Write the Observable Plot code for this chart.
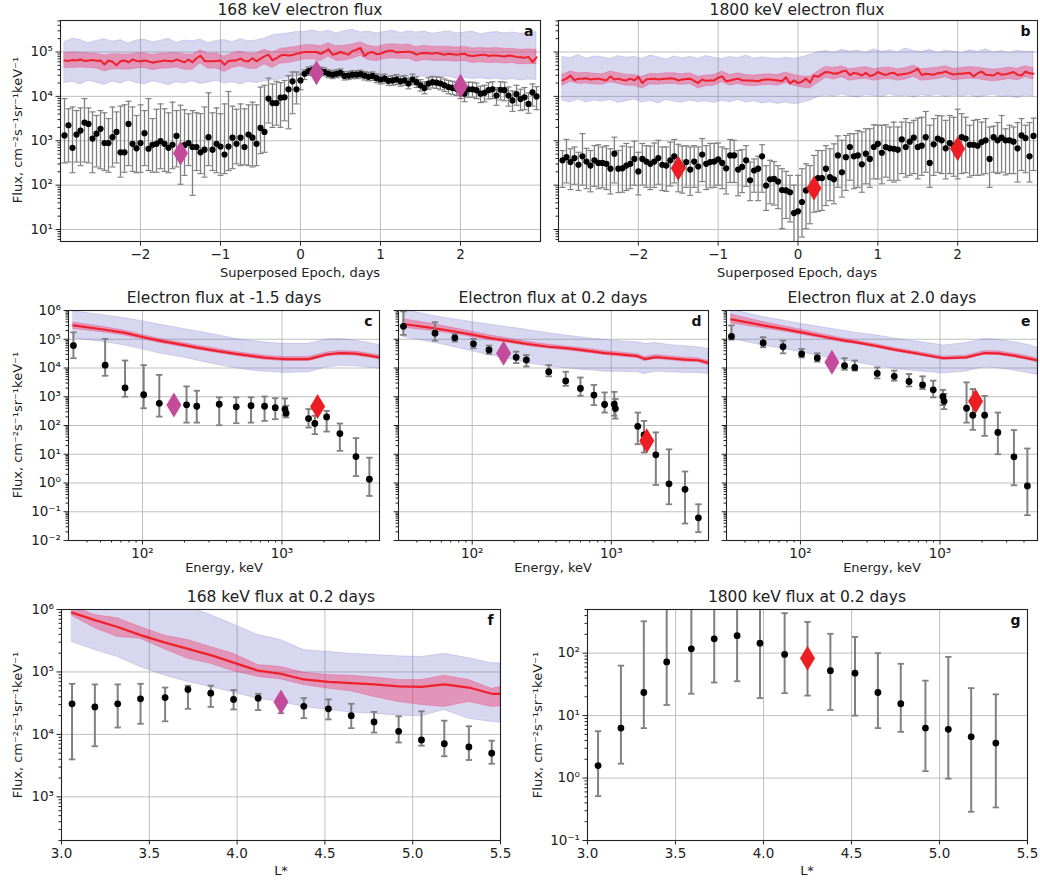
<!DOCTYPE html>
<html><head><meta charset="utf-8">
<script src="https://cdn.jsdelivr.net/npm/d3@7"></script>
<script src="https://cdn.jsdelivr.net/npm/@observablehq/plot@0.6"></script>
<style>
body{margin:0;background:#fff;}
#fig{position:relative;width:1040px;height:882px;background:#fff;font-family:"DejaVu Sans",sans-serif;color:#222;overflow:hidden;}
.t{position:absolute;transform:translate(-50%,-50%);white-space:nowrap;}
.ttl{font-size:15.5px;}
.lab{font-size:13px;}
.ylab{font-size:13px;transform:translate(-50%,-50%) rotate(-90deg);}
</style></head>
<body><div id="fig"></div>
<script>
// ---------------- DATA (log10 of flux unless stated) ----------------
const epochDays = [
-2.95,-2.9,-2.85,-2.8,-2.75,-2.7,-2.65,-2.6,-2.55,-2.5,
-2.45,-2.4,-2.35,-2.3,-2.25,-2.2,-2.15,-2.1,-2.05,-2,
-1.95,-1.9,-1.85,-1.8,-1.75,-1.7,-1.65,-1.6,-1.55,-1.5,
-1.45,-1.4,-1.35,-1.3,-1.25,-1.2,-1.15,-1.1,-1.05,-1,
-0.95,-0.9,-0.85,-0.8,-0.75,-0.7,-0.65,-0.6,-0.55,-0.5,
-0.45,-0.4,-0.35,-0.3,-0.25,-0.2,-0.15,-0.1,-0.05,0,
0.05,0.1,0.15,0.2,0.25,0.3,0.35,0.4,0.45,0.5,
0.55,0.6,0.65,0.7,0.75,0.8,0.85,0.9,0.95,1,
1.05,1.1,1.15,1.2,1.25,1.3,1.35,1.4,1.45,1.5,
1.55,1.6,1.65,1.7,1.75,1.8,1.85,1.9,1.95,2,
2.05,2.1,2.15,2.2,2.25,2.3,2.35,2.4,2.45,2.5,
2.55,2.6,2.65,2.7,2.75,2.8,2.85,2.9,2.95];
const bandDays = [-2.95,-2.85,-2.75,-2.65,-2.55,-2.45,-2.35,-2.25,-2.15,-2.05,
-1.95,-1.85,-1.75,-1.65,-1.55,-1.45,-1.35,-1.25,-1.15,-1.05,
-0.95,-0.85,-0.75,-0.65,-0.55,-0.45,-0.35,-0.25,-0.15,-0.05,
0.05,0.15,0.25,0.35,0.45,0.55,0.65,0.75,0.85,0.95,
1.05,1.15,1.25,1.35,1.45,1.55,1.65,1.75,1.85,1.95,
2.05,2.15,2.25,2.35,2.45,2.55,2.65,2.75,2.85,2.95];

// panel a: 168 keV
const aFlux = [3.12,3.35,2.84,3.14,3.23,3.41,3.38,3.05,3.16,3.27,
2.95,2.95,3.08,3.20,2.74,2.74,3.38,2.93,2.83,2.95,
3.17,2.82,2.91,2.93,2.99,2.93,2.84,2.91,3.11,2.80,
2.90,2.95,2.86,2.86,2.74,2.80,3.08,2.80,2.93,2.87,
2.69,2.87,3.07,2.93,3.07,2.86,3.14,3.07,2.93,3.29,
3.20,3.95,3.85,3.85,3.97,3.98,4.16,4.34,4.16,
4.36,4.51,4.57,4.59,4.57,4.57,4.55,4.51,4.49,4.51,
4.53,4.46,4.47,4.49,4.49,4.50,4.47,4.44,4.46,4.41,
4.38,4.40,4.35,4.36,4.38,4.34,4.36,4.29,4.38,4.32,
4.25,4.19,4.29,4.32,4.31,4.29,4.25,4.21,4.19,4.17,
4.11,4.06,4.16,4.16,4.14,4.06,4.08,4.14,4.16,4.02,
4.15,4.14,4.02,3.91,4.05,3.94,3.98,3.83,4.09,4.00];
const aHigh = [3.95,3.72,3.76,3.68,3.74,3.95,3.74,3.65,3.57,3.68,
3.63,3.50,3.76,3.65,3.78,3.81,3.89,3.76,3.57,3.81,
3.68,3.95,3.50,3.71,3.83,3.72,3.63,3.87,3.68,3.80,
3.70,3.61,3.68,3.63,3.61,3.76,4.08,3.63,3.74,3.61,
3.83,4.11,3.78,3.71,3.83,3.72,3.81,3.87,3.81,4.21,
4.25,4.41,4.28,4.34,4.31,4.36,4.47,4.55,4.55,
4.50,4.60,4.66,4.68,4.66,4.66,4.64,4.60,4.58,4.60,
4.62,4.56,4.56,4.58,4.58,4.59,4.56,4.54,4.55,4.51,
4.48,4.50,4.45,4.47,4.49,4.45,4.47,4.41,4.50,4.44,
4.38,4.33,4.42,4.45,4.44,4.43,4.39,4.36,4.34,4.32,
4.27,4.22,4.32,4.32,4.30,4.23,4.25,4.31,4.33,4.20,
4.33,4.32,4.21,4.12,4.25,4.16,4.20,4.08,4.28,4.22];
const aLow = [2.50,2.52,2.28,2.52,2.44,2.52,2.50,2.28,2.41,2.37,
2.33,2.29,2.41,2.50,2.18,2.29,2.44,2.31,2.28,2.29,
2.44,2.33,2.29,2.29,2.37,2.31,2.28,2.37,2.41,2.02,
2.22,2.44,1.77,2.33,2.26,2.18,2.44,2.33,2.28,2.22,
2.26,2.33,2.37,2.48,2.44,2.46,2.44,2.41,2.44,2.71,
2.74,3.40,3.30,3.35,3.30,3.45,3.27,3.61,3.83,
4.15,4.38,4.47,4.49,4.47,4.48,4.46,4.42,4.40,4.42,
4.44,4.37,4.38,4.40,4.40,4.41,4.37,4.35,4.36,4.31,
4.28,4.30,4.25,4.25,4.27,4.23,4.25,4.17,4.26,4.20,
4.12,4.06,4.16,4.19,4.18,4.15,4.11,4.06,4.04,4.02,
3.95,3.88,3.98,3.98,3.95,3.86,3.88,3.94,3.95,3.80,
3.92,3.90,3.78,3.66,3.80,3.68,3.70,3.62,3.78,3.70];
const aModel = [4.81,4.80,4.82,4.81,4.83,4.80,4.81,4.82,4.80,4.81,
4.72,4.81,4.78,4.70,4.79,4.81,4.77,4.83,4.80,4.79,
4.81,4.79,4.76,4.78,4.79,4.81,4.80,4.79,4.83,4.80,
4.77,4.83,4.77,4.86,4.92,4.80,4.79,4.79,4.80,4.81,
4.71,4.80,4.81,4.81,4.85,4.80,4.79,4.86,4.79,4.85,
4.90,4.94,4.81,4.86,4.92,4.94,4.92,4.93,4.96,4.98,
5.00,5.00,5.00,5.00,4.96,5.00,5.06,4.94,4.96,5.00,
4.97,4.94,5.02,5.05,5.09,4.91,4.98,5.00,4.95,4.96,
5.00,5.03,5.03,4.99,5.00,5.00,5.01,4.99,4.94,4.97,
4.98,4.97,4.96,4.98,4.96,4.94,4.96,4.95,4.94,4.95,
4.96,4.92,4.91,4.92,4.93,4.94,4.91,4.92,4.92,4.91,
4.90,4.92,4.91,4.89,4.88,4.87,4.89,4.77,4.88];
const aOuterHi = [5.22,5.30,5.27,5.20,5.25,5.29,5.23,5.27,5.19,5.26,
5.28,5.22,5.25,5.30,5.21,5.26,5.24,5.28,5.20,5.25,
5.27,5.22,5.29,5.24,5.26,5.30,5.38,5.40,5.42,5.45,
5.45,5.49,5.44,5.48,5.42,5.47,5.50,5.44,5.46,5.42,
5.45,5.48,5.43,5.47,5.44,5.46,5.41,5.44,5.47,5.42,
5.44,5.46,5.40,5.43,5.45,5.42,5.44,5.41,5.43,5.45];
const aOuterLo = [4.30,4.33,4.27,4.35,4.31,4.26,4.33,4.29,4.36,4.30,
4.27,4.34,4.30,4.25,4.32,4.29,4.34,4.28,4.31,4.35,
4.29,4.32,4.27,4.33,4.30,4.34,4.36,4.38,4.42,4.45,
4.48,4.50,4.46,4.49,4.47,4.51,4.45,4.48,4.46,4.44,
4.47,4.43,4.45,4.42,4.46,4.44,4.41,4.43,4.45,4.40,
4.42,4.39,4.41,4.38,4.40,4.37,4.39,4.36,4.38,4.37];
const aInnerHi = [4.97,4.99,4.98,4.97,4.96,4.92,4.95,4.95,4.94,4.97,
4.97,4.93,4.96,4.97,4.98,4.95,4.94,5.04,4.96,4.97,
4.90,4.97,5.01,4.96,4.97,5.05,4.99,5.07,5.09,5.12,
5.15,5.16,5.13,5.20,5.13,5.14,5.17,5.22,5.14,5.11,
5.16,5.18,5.16,5.17,5.11,5.14,5.12,5.12,5.12,5.10,
5.12,5.08,5.09,5.08,5.09,5.07,5.07,5.05,5.06,5.05];
const aInnerLo = [4.64,4.64,4.65,4.64,4.63,4.56,4.61,4.61,4.60,4.63,
4.64,4.59,4.62,4.63,4.65,4.60,4.60,4.74,4.62,4.63,
4.55,4.64,4.68,4.62,4.62,4.72,4.64,4.74,4.75,4.79,
4.83,4.84,4.79,4.90,4.80,4.81,4.85,4.91,4.82,4.79,
4.84,4.86,4.84,4.85,4.78,4.82,4.80,4.80,4.80,4.78,
4.80,4.75,4.77,4.75,4.76,4.74,4.75,4.72,4.73,4.72];
const aMarkDays = [-1.5, 0.2, 2.0];
const aMarkFlux = [2.72, 4.53, 4.23];

// panel b: 1800 keV
const bFlux = [2.56,2.63,2.52,2.61,2.46,2.65,2.53,2.44,2.56,2.50,
2.50,2.48,2.37,2.71,2.37,2.38,2.44,2.48,2.59,2.31,
2.59,2.53,2.48,2.53,2.61,2.46,2.44,2.56,2.65,2.45,
2.40,2.52,2.35,2.53,2.42,2.69,2.48,2.52,2.53,2.58,
2.50,2.38,2.67,2.67,2.35,2.41,2.56,2.11,2.33,2.37,
2.65,1.99,2.13,2.14,2.08,1.89,1.88,1.84,1.37,
1.41,1.62,1.88,1.92,1.95,2.16,2.16,2.37,2.18,2.13,
2.67,2.29,2.63,2.86,2.65,2.67,2.47,2.71,2.59,2.86,
2.93,2.73,2.86,2.83,2.82,2.80,3.03,2.86,2.98,3.07,
2.86,2.89,3.08,2.50,2.92,3.05,3.01,2.83,2.95,2.89,
2.95,3.08,3.05,2.91,2.91,2.89,2.97,3.01,2.59,3.08,
3.01,3.07,3.01,3.01,2.98,2.83,3.12,3.06,2.65,3.11];
const bHigh = [2.78,3.03,2.82,2.86,2.74,3.16,2.83,2.78,2.89,2.91,
2.86,2.89,2.82,3.08,2.78,2.88,2.94,2.86,2.99,2.74,
2.94,2.89,2.88,2.95,3.01,2.86,2.86,2.97,3.03,2.92,
2.88,2.89,2.86,2.89,2.86,3.05,2.89,2.94,2.94,2.95,
2.86,2.82,3.03,3.01,2.78,2.80,2.89,2.52,2.59,2.65,
2.91,2.44,2.56,2.53,2.44,2.37,2.31,2.22,2.00,
2.22,2.37,2.48,2.44,2.67,2.78,2.78,2.89,2.82,2.93,
3.11,3.01,3.12,3.16,3.16,3.23,3.20,3.27,3.27,3.36,
3.35,3.35,3.36,3.31,3.42,3.31,3.42,3.50,3.41,3.46,
3.51,3.53,3.66,3.35,3.50,3.57,3.56,3.46,3.57,3.53,
3.71,3.61,3.53,3.35,3.46,3.48,3.42,3.50,3.31,3.33,
3.41,3.57,3.27,3.35,3.31,3.41,3.50,3.35,3.41,3.51];
const bLow = [1.95,2.05,1.90,2.02,1.88,2.00,1.92,1.85,1.97,1.92,
1.94,1.90,1.80,2.05,1.83,1.84,1.88,1.92,2.00,1.78,
2.00,1.95,1.90,1.95,2.02,1.88,1.86,1.98,2.05,1.85,
1.82,1.95,1.77,1.95,1.84,2.08,1.90,1.94,1.95,2.00,
1.92,1.80,2.06,2.06,1.76,1.83,1.97,1.65,1.84,1.65,
1.84,1.43,1.58,1.55,1.47,1.02,1.25,1.17,0.71,
0.71,0.83,1.02,1.13,1.39,1.41,1.43,1.54,1.65,1.58,
1.95,1.73,1.88,2.11,1.92,1.95,1.84,2.03,1.95,2.14,
2.14,2.03,2.18,2.11,2.07,2.11,2.26,2.18,2.22,2.26,
2.14,2.22,2.29,1.95,2.22,2.29,2.26,2.14,2.26,2.20,
2.14,2.26,2.28,2.18,2.22,2.22,2.23,2.26,1.95,2.29,
2.26,2.29,2.23,2.26,2.26,2.07,2.33,2.28,2.07,2.33];
const bModel = [4.36,4.40,4.47,4.36,4.40,4.40,4.41,4.38,4.39,4.40,
4.38,4.36,4.45,4.38,4.40,4.37,4.36,4.40,4.36,4.44,
4.30,4.38,4.39,4.40,4.38,4.39,4.40,4.41,4.40,4.36,
4.38,4.39,4.40,4.35,4.30,4.38,4.35,4.36,4.36,4.42,
4.45,4.34,4.36,4.38,4.40,4.36,4.36,4.36,4.35,4.34,
4.37,4.38,4.38,4.37,4.36,4.34,4.43,4.29,4.36,4.30,
4.33,4.40,4.31,4.47,4.44,4.50,4.55,4.54,4.51,4.52,
4.56,4.58,4.48,4.53,4.51,4.47,4.53,4.46,4.48,4.55,
4.51,4.48,4.52,4.53,4.48,4.50,4.51,4.53,4.57,4.62,
4.48,4.51,4.50,4.49,4.52,4.53,4.56,4.52,4.49,4.51,
4.51,4.52,4.53,4.45,4.52,4.56,4.49,4.48,4.47,4.53,
4.49,4.50,4.52,4.55,4.49,4.47,4.56,4.52,4.51];
const bOuterHi = [4.89,4.86,4.93,4.85,4.90,4.88,4.84,4.91,4.87,4.89,
4.85,4.92,4.88,4.83,4.90,4.86,4.89,4.85,4.91,4.87,
4.84,4.89,4.86,4.92,4.85,4.88,4.86,4.84,4.87,4.85,
4.88,4.93,5.00,5.02,4.98,5.05,5.01,5.03,4.98,5.06,
5.00,5.04,4.99,5.08,5.02,5.00,5.05,4.98,5.03,5.01,
4.97,5.04,5.00,5.06,4.99,5.02,4.98,5.03,5.00,5.01];
const bOuterLo = [3.90,3.87,3.93,3.86,3.91,3.88,3.92,3.85,3.89,3.93,
3.86,3.90,3.84,3.92,3.88,3.86,3.91,3.87,3.89,3.85,
3.90,3.87,3.92,3.86,3.89,3.84,3.87,3.83,3.86,3.82,
3.85,3.90,3.98,4.02,3.99,4.04,4.00,3.97,4.03,4.01,
3.98,4.05,4.00,4.02,3.97,4.03,4.00,4.04,3.98,4.02,
3.99,4.03,3.97,4.01,4.04,3.98,4.00,3.96,4.02,3.99];
const bInnerHi = [4.49,4.56,4.52,4.53,4.51,4.50,4.56,4.52,4.49,4.48,
4.44,4.51,4.50,4.52,4.52,4.50,4.52,4.44,4.47,4.48,
4.56,4.48,4.52,4.48,4.47,4.49,4.50,4.48,4.54,4.48,
4.45,4.44,4.56,4.67,4.64,4.68,4.61,4.64,4.66,4.61,
4.64,4.65,4.61,4.64,4.69,4.61,4.63,4.65,4.68,4.62,
4.64,4.66,4.65,4.62,4.60,4.62,4.65,4.62,4.68,4.64];
const bInnerLo = [4.24,4.33,4.28,4.29,4.27,4.26,4.32,4.28,4.24,4.24,
4.18,4.27,4.26,4.28,4.28,4.26,4.28,4.18,4.23,4.24,
4.32,4.24,4.28,4.24,4.23,4.25,4.26,4.24,4.30,4.24,
4.20,4.18,4.30,4.42,4.38,4.43,4.35,4.38,4.40,4.35,
4.38,4.39,4.35,4.38,4.44,4.35,4.37,4.39,4.43,4.36,
4.38,4.40,4.39,4.36,4.34,4.36,4.39,4.36,4.43,4.38];
const bMarkDays = [-1.5, 0.2, 2.0];
const bMarkFlux = [2.38, 1.93, 2.82];

// panels c, d, e: energy spectra (keV)
const dotEnergy = [32,54,75,102,132,207,245,355,470,600,750,895,1050,1070,1550,1720,2090,2600,3390,4230];
const modelEnergy = [32,54,75,102,132,207,245,355,470,600,750,895,1060,1550,1740,2090,2600,3390,4230,5000];
const markEnergy = [168, 1800];

const cFlux = [4.78,4.10,3.31,3.07,2.77,2.72,2.67,2.74,2.65,2.69,2.67,2.62,2.57,2.43,2.24,2.07,2.30,1.72,0.92,0.13];
const cLow  = [4.34,3.73,3.00,2.60,2.31,2.10,2.10,2.01,2.08,2.10,2.16,2.22,2.34,2.28,1.93,1.70,1.79,1.12,0.24,-0.45];
const cHigh = [5.24,5.01,4.26,4.10,3.76,3.36,3.21,2.98,2.98,2.98,3.01,2.95,2.94,2.69,2.57,2.34,2.51,2.07,1.56,0.88];
const cModel   = [5.48,5.33,5.22,5.07,4.95,4.78,4.71,4.58,4.49,4.42,4.36,4.33,4.31,4.31,4.37,4.47,4.52,4.50,4.43,4.37];
const cOuterHi = [5.97,5.83,5.73,5.62,5.51,5.34,5.28,5.13,5.01,4.94,4.90,4.86,4.84,4.84,4.90,4.99,5.01,4.95,4.87,4.80];
const cOuterLo = [5.03,4.90,4.78,4.64,4.51,4.34,4.26,4.10,3.99,3.91,3.87,3.85,3.83,3.85,3.91,4.02,4.08,4.06,4.01,3.97];
const cInnerHi = [5.58,5.42,5.30,5.14,5.02,4.85,4.78,4.65,4.56,4.49,4.43,4.40,4.38,4.38,4.44,4.54,4.59,4.57,4.50,4.44];
const cInnerLo = [5.36,5.23,5.13,4.99,4.87,4.71,4.64,4.51,4.42,4.35,4.29,4.26,4.24,4.24,4.30,4.40,4.45,4.43,4.36,4.30];
const cMarkFlux = [2.71, 2.66];

const dFlux = [5.45,5.21,5.05,4.84,4.63,4.37,4.28,3.87,3.55,3.29,3.06,2.73,2.74,2.59,1.97,1.67,0.98,-0.03,-0.22,-1.21];
const dLow  = [5.15,4.95,4.92,4.69,4.49,4.17,4.05,3.71,3.38,3.03,2.71,2.45,2.34,2.24,1.35,1.06,-0.07,-0.74,-1.41,-1.71];
const dHigh = [5.97,5.59,5.19,5.01,4.78,4.57,4.45,4.10,3.87,3.67,3.41,3.15,3.17,2.92,2.45,2.16,1.76,1.17,0.40,-0.74];
const dModel   = [5.53,5.38,5.27,5.15,5.05,4.90,4.84,4.74,4.69,4.63,4.57,4.52,4.49,4.41,4.31,4.38,4.34,4.29,4.27,4.17];
const dOuterHi = [6.03,5.80,5.69,5.59,5.51,5.38,5.33,5.21,5.13,5.07,5.01,4.98,4.94,4.90,4.84,4.87,4.80,4.76,4.72,4.66];
const dOuterLo = [5.07,4.87,4.72,4.57,4.45,4.26,4.17,4.05,3.99,3.94,3.91,3.87,3.87,3.85,3.79,3.87,3.85,3.83,3.83,3.79];
const dInnerHi = [5.70,5.52,5.38,5.25,5.14,4.98,4.92,4.81,4.75,4.70,4.64,4.59,4.56,4.48,4.38,4.45,4.41,4.36,4.34,4.24];
const dInnerLo = [5.40,5.27,5.18,5.07,4.97,4.83,4.77,4.67,4.62,4.56,4.50,4.45,4.42,4.34,4.24,4.31,4.27,4.22,4.20,4.10];
const dMarkFlux = [4.51, 1.47];

const eFlux = [5.10,4.87,4.74,4.49,4.35,4.08,4.02,3.81,3.71,3.53,3.41,3.24,3.00,2.84,2.60,2.36,2.36,1.76,0.91,-0.10];
const eLow  = [4.99,4.72,4.51,4.37,4.22,3.94,3.91,3.64,3.56,3.36,3.27,2.98,2.71,2.57,2.10,1.85,1.64,1.00,-0.08,-1.12];
const eHigh = [5.48,5.07,4.95,4.66,4.51,4.34,4.26,4.02,3.91,3.79,3.71,3.56,3.24,3.10,3.50,3.27,3.03,2.45,1.84,1.20];
const eModel   = [5.69,5.48,5.36,5.24,5.13,4.95,4.90,4.76,4.64,4.55,4.47,4.40,4.34,4.37,4.43,4.52,4.51,4.43,4.34,4.26];
const eOuterHi = [6.03,5.77,5.65,5.53,5.44,5.29,5.23,5.13,5.03,4.95,4.90,4.84,4.78,4.87,4.92,5.01,4.98,4.90,4.81,4.71];
const eOuterLo = [5.01,4.78,4.66,4.55,4.43,4.26,4.20,4.06,3.97,3.91,3.87,3.84,3.81,3.88,3.94,4.02,3.99,3.91,3.83,3.76];
const eInnerHi = [5.86,5.60,5.46,5.33,5.21,5.02,4.96,4.82,4.70,4.61,4.53,4.46,4.40,4.43,4.49,4.59,4.58,4.50,4.41,4.33];
const eInnerLo = [5.55,5.38,5.27,5.16,5.06,4.88,4.84,4.70,4.58,4.49,4.41,4.34,4.28,4.31,4.37,4.46,4.45,4.37,4.28,4.20];
const eMarkFlux = [4.20, 2.84];

// panels f, g: radial profiles
const fLstar = [3.06,3.19,3.32,3.45,3.59,3.72,3.85,3.98,4.12,4.25,4.38,4.52,4.65,4.78,4.92,5.05,5.18,5.32,5.45];
const fFlux = [4.49,4.44,4.49,4.57,4.59,4.72,4.66,4.56,4.58,4.52,4.45,4.41,4.30,4.20,4.05,3.91,3.85,3.80,3.70];
const fHigh = [4.81,4.80,4.80,4.81,4.75,4.78,4.78,4.71,4.65,4.60,4.58,4.56,4.49,4.36,4.29,4.37,4.22,4.13,3.90];
const fLow  = [3.60,3.81,4.11,4.17,4.21,4.41,4.44,4.40,4.39,4.34,4.26,4.24,4.10,4.03,3.87,3.82,3.65,3.59,3.53];
const fModelL = [3.06,3.19,3.32,3.45,3.59,3.72,3.85,3.98,4.12,4.25,4.38,4.52,4.65,4.78,4.92,5.05,5.18,5.32,5.45,5.5];
const fModel   = [5.95,5.83,5.72,5.59,5.47,5.37,5.27,5.15,5.02,4.97,4.88,4.84,4.82,4.80,4.77,4.76,4.80,4.75,4.65,4.65];
const fInnerHi = [6.05,5.91,5.86,5.72,5.58,5.51,5.40,5.29,5.11,5.08,4.99,4.95,4.94,4.91,4.87,4.87,4.94,4.87,4.73,4.76];
const fInnerLo = [5.90,5.70,5.56,5.53,5.36,5.21,5.13,5.01,4.92,4.88,4.79,4.73,4.69,4.60,4.52,4.47,4.44,4.52,4.44,4.45];
const fOuterHi = [6.45,6.35,6.28,6.20,6.12,6.05,5.91,5.76,5.59,5.51,5.35,5.32,5.29,5.27,5.25,5.24,5.29,5.22,5.14,5.14];
const fOuterLo = [5.48,5.35,5.24,5.08,4.94,4.84,4.76,4.67,4.57,4.52,4.44,4.39,4.35,4.33,4.30,4.29,4.39,4.25,4.20,4.19];
const fMarkL = [4.25], fMarkFlux = [4.52];

const gLstar = [3.06,3.19,3.32,3.45,3.59,3.72,3.85,3.98,4.12,4.25,4.38,4.52,4.65,4.78,4.92,5.05,5.18,5.32];
const gFlux = [0.20,0.80,1.37,1.86,2.07,2.23,2.28,2.16,1.98,1.92,1.72,1.68,1.37,1.19,0.80,0.78,0.66,0.56];
const gHigh = [0.75,1.80,2.51,2.80,2.80,2.80,2.80,2.80,2.64,2.50,2.31,2.26,2.00,1.83,1.56,1.94,1.44,1.34];
const gLow  = [-0.29,0.23,0.80,1.17,1.35,1.53,1.55,1.28,1.36,1.32,1.09,1.00,0.80,0.74,0.11,-0.01,-0.54,-0.47];
const gMarkL = [4.25], gMarkFlux = [1.92];

// ---------------- STYLE ----------------
const C = {outer:"#7070c8", inner:"#f0205a", line:"#f0202a", mag:"#c44b9b", red:"#eb1e23",
           err:"#808080", grid:"#b8b8b8", frame:"#222"};
const P = v => Math.pow(10, v);
const SUP = {"-":"⁻","0":"⁰","1":"¹","2":"²","3":"³","4":"⁴","5":"⁵","6":"⁶","7":"⁷","8":"⁸","9":"⁹"};
const pow10 = v => "10" + String(Math.round(Math.log10(v))).split("").map(c => SUP[c]).join("");
const minus = v => (v < 0 ? "\u2212" + Math.abs(v) : String(v));
function minorLog(lo, hi) {
  const out = [];
  for (let k = Math.floor(Math.log10(lo)); k <= Math.ceil(Math.log10(hi)); k++)
    for (let m = 2; m <= 9; m++) { const v = m * Math.pow(10, k); if (v >= lo && v <= hi) out.push(v); }
  return out;
}
const thinDiamond = {draw(ctx, size) { const r = Math.sqrt(size / Math.PI), w = r * 0.6;
  ctx.moveTo(0, -r); ctx.lineTo(w, 0); ctx.lineTo(0, r); ctx.lineTo(-w, 0); ctx.closePath(); }};
const capSym = {draw(ctx, size) { const r = Math.sqrt(size / Math.PI); ctx.moveTo(-r, 0); ctx.lineTo(r, 0); }};

const fig = document.getElementById("fig");
function place(chart, left, top) {
  chart.style.position = "absolute"; chart.style.left = left + "px"; chart.style.top = top + "px";
  fig.append(chart);
}
function label(text, x, y, cls) {
  const d = document.createElement("div"); d.className = "t " + cls; d.textContent = text;
  d.style.left = x + "px"; d.style.top = y + "px"; fig.append(d);
}

function panel(o) {
  const {fx0, fx1, fy0, fy1, ml, mr = 4, mt = 6, mb = 28} = o;
  const chart = Plot.plot({
    width: (fx1 - fx0) + ml + mr, height: (fy1 - fy0) + mt + mb,
    marginLeft: ml, marginRight: mr, marginTop: mt, marginBottom: mb,
    x: {...o.x, axis: null}, y: {...o.y, axis: null},
    style: {background: "transparent", fontFamily: "DejaVu Sans", fontSize: "13px", color: "#222", overflow: "visible"},
    marks: [
      Plot.gridX(o.xGrid, {stroke: C.grid, strokeOpacity: 1, strokeWidth: 0.9}),
      Plot.gridY(o.yGrid, {stroke: C.grid, strokeOpacity: 1, strokeWidth: 0.9}),
      ...o.marks,
      Plot.frame({stroke: C.frame, strokeWidth: 1.1}),
      Plot.axisX(o.xTicks, {anchor: "bottom", tickSize: 4.5, tickPadding: 3, tickFormat: o.xFmt, label: null, fontSize: 13.5}),
      ...(o.xMinor ? [Plot.axisX(o.xMinor, {anchor: "bottom", tickSize: 2.5, tickFormat: () => "", label: null})] : []),
      Plot.axisY(o.yTicks, {anchor: "left", tickSize: 4.5, tickPadding: 3, tickFormat: o.yLabels ? pow10 : () => "", label: null, fontSize: 13.5}),
      Plot.axisY(minorLog(o.y.domain[0], o.y.domain[1]), {anchor: "left", tickSize: 2.5, tickFormat: () => "", label: null}),
      Plot.text([o.letter], {frameAnchor: "top-right", dx: -7, dy: 11, lineAnchor: "middle", fontWeight: "bold", fontSize: 14, fill: "#111"})
    ]
  });
  place(chart, fx0 - ml, fy0 - mt);
}

function errMarks(rows, xk, w, cap) {
  return [
    Plot.ruleX(rows, {x: xk, y1: "lo", y2: "hi", stroke: C.err, strokeWidth: w, clip: true}),
    Plot.dot(rows, {x: xk, y: "lo", symbol: capSym, r: cap, stroke: C.err, strokeWidth: w * 0.9, fill: "none", clip: true}),
    Plot.dot(rows, {x: xk, y: "hi", symbol: capSym, r: cap, stroke: C.err, strokeWidth: w * 0.9, fill: "none", clip: true})
  ];
}
function bandMarks(rows, xk) {
  return [
    Plot.areaY(rows, {x: xk, y1: "oLo", y2: "oHi", fill: C.outer, fillOpacity: 0.28, stroke: C.outer, strokeOpacity: 0.3, strokeWidth: 0.8, clip: true}),
    Plot.areaY(rows, {x: xk, y1: "iLo", y2: "iHi", fill: C.inner, fillOpacity: 0.36, stroke: C.inner, strokeOpacity: 0.3, strokeWidth: 0.8, clip: true}),
  ];
}

// ---------------- TOP ROW: time series ----------------
const tsY = {type: "log", domain: [P(0.73), P(5.71)]};
const tsX = {domain: [-3, 3]};
function timePanel(flux, lo, hi, model, oHi, oLo, iHi, iLo, mDays, mFlux, color, geom, letter, yLabels) {
  const rows = epochDays.map((d, i) => ({d, v: P(flux[i]), lo: P(lo[i]), hi: P(hi[i]), m: P(model[i])}));
  const bands = bandDays.map((d, i) => ({d, oHi: P(oHi[i]), oLo: P(oLo[i]), iHi: P(iHi[i]), iLo: P(iLo[i])}));
  const marks = mDays.map((d, i) => ({d, v: P(mFlux[i])}));
  panel({...geom, x: tsX, y: tsY, letter, yLabels,
    xGrid: [-2, -1, 0, 1, 2], yGrid: [10, 100, 1e3, 1e4, 1e5],
    xTicks: [-2, -1, 0, 1, 2], xFmt: minus, yTicks: [10, 100, 1e3, 1e4, 1e5],
    marks: [
      ...bandMarks(bands, "d"),
      Plot.line(rows, {x: "d", y: "m", stroke: C.line, strokeWidth: 2, clip: true}),
      ...errMarks(rows, "d", 1.3, 3),
      Plot.dot(rows, {x: "d", y: "v", r: 3.1, fill: "black", stroke: "none", clip: true}),
      Plot.dot(marks, {x: "d", y: "v", symbol: thinDiamond, r: 12.5, fill: color, stroke: "none"})
    ]});
}
timePanel(aFlux, aLow, aHigh, aModel, aOuterHi, aOuterLo, aInnerHi, aInnerLo, aMarkDays, aMarkFlux, C.mag,
  {fx0: 60, fx1: 540, fy0: 20, fy1: 241, ml: 46}, "a", true);
timePanel(bFlux, bLow, bHigh, bModel, bOuterHi, bOuterLo, bInnerHi, bInnerLo, bMarkDays, bMarkFlux, C.red,
  {fx0: 558, fx1: 1037, fy0: 20, fy1: 241, ml: 10, mr: 2}, "b", false);

// ---------------- MIDDLE ROW: spectra ----------------
const spY = {type: "log", domain: [1e-2, 1e6]};
const spX = {type: "log", domain: [29.5, 5000]};
function specPanel(flux, lo, hi, model, oHi, oLo, iHi, iLo, mFlux, geom, letter, yLabels) {
  const rows = dotEnergy.map((e, i) => ({e, v: P(flux[i]), lo: P(lo[i]), hi: P(hi[i])}));
  const mrows = modelEnergy.map((e, i) => ({e, m: P(model[i]), oHi: P(oHi[i]), oLo: P(oLo[i]), iHi: P(iHi[i]), iLo: P(iLo[i])}));
  const marks = markEnergy.map((e, i) => ({e, v: P(mFlux[i]), c: i === 0 ? C.mag : C.red}));
  panel({...geom, x: spX, y: spY, letter, yLabels,
    xGrid: [100, 1000], yGrid: [1e-2, 1e-1, 1, 10, 100, 1e3, 1e4, 1e5, 1e6],
    xTicks: [100, 1000], xFmt: pow10,
    xMinor: [40, 50, 60, 70, 80, 90, 200, 300, 400, 500, 600, 700, 800, 900, 2000, 3000, 4000],
    yTicks: [1e-2, 1e-1, 1, 10, 100, 1e3, 1e4, 1e5, 1e6],
    marks: [
      ...bandMarks(mrows, "e"),
      Plot.line(mrows, {x: "e", y: "m", stroke: C.line, strokeWidth: 2.2, clip: true}),
      ...errMarks(rows, "e", 2, 3.2),
      Plot.dot(rows, {x: "e", y: "v", r: 3.4, fill: "black", stroke: "none", clip: true}),
      Plot.dot(marks, {x: "e", y: "v", symbol: thinDiamond, r: 12.5, fill: "c", stroke: "none"})
    ]});
}
specPanel(cFlux, cLow, cHigh, cModel, cOuterHi, cOuterLo, cInnerHi, cInnerLo, cMarkFlux,
  {fx0: 68, fx1: 379, fy0: 310, fy1: 540, ml: 50}, "c", true);
specPanel(dFlux, dLow, dHigh, dModel, dOuterHi, dOuterLo, dInnerHi, dInnerLo, dMarkFlux,
  {fx0: 398, fx1: 708, fy0: 310, fy1: 540, ml: 8}, "d", false);
specPanel(eFlux, eLow, eHigh, eModel, eOuterHi, eOuterLo, eInnerHi, eInnerLo, eMarkFlux,
  {fx0: 726, fx1: 1037, fy0: 310, fy1: 540, ml: 8, mr: 2}, "e", false);

// ---------------- BOTTOM ROW: L* profiles ----------------
const lX = {domain: [3, 5.5]};
const lTicks = [3.0, 3.5, 4.0, 4.5, 5.0, 5.5];
{
  const rows = fLstar.map((l, i) => ({l, v: P(fFlux[i]), lo: P(fLow[i]), hi: P(fHigh[i])}));
  const mrows = fModelL.map((l, i) => ({l, m: P(fModel[i]), oHi: P(fOuterHi[i]), oLo: P(fOuterLo[i]), iHi: P(fInnerHi[i]), iLo: P(fInnerLo[i])}));
  const marks = fMarkL.map((l, i) => ({l, v: P(fMarkFlux[i])}));
  panel({fx0: 61, fx1: 500, fy0: 609, fy1: 840, ml: 48, x: lX, y: {type: "log", domain: [200, 1e6]}, letter: "f", yLabels: true,
    xGrid: [3.5, 4.0, 4.5, 5.0], yGrid: [1e3, 1e4, 1e5], xTicks: lTicks, xFmt: v => v.toFixed(1),
    yTicks: [1e3, 1e4, 1e5, 1e6],
    marks: [
      ...bandMarks(mrows, "l"),
      Plot.line(mrows, {x: "l", y: "m", stroke: C.line, strokeWidth: 2.2, clip: true}),
      ...errMarks(rows, "l", 2, 3.2),
      Plot.dot(rows, {x: "l", y: "v", r: 3.4, fill: "black", stroke: "none", clip: true}),
      Plot.dot(marks, {x: "l", y: "v", symbol: thinDiamond, r: 12.5, fill: C.mag, stroke: "none"})
    ]});
}
{
  const rows = gLstar.map((l, i) => ({l, v: P(gFlux[i]), lo: P(gLow[i]), hi: P(gHigh[i])}));
  const marks = gMarkL.map((l, i) => ({l, v: P(gMarkFlux[i])}));
  panel({fx0: 587, fx1: 1027, fy0: 609, fy1: 840, ml: 48, x: lX, y: {type: "log", domain: [0.1, 500]}, letter: "g", yLabels: true,
    xGrid: [3.5, 4.0, 4.5, 5.0], yGrid: [1, 10, 100], xTicks: lTicks, xFmt: v => v.toFixed(1),
    yTicks: [0.1, 1, 10, 100],
    marks: [
      ...errMarks(rows, "l", 2, 3.2),
      Plot.dot(rows, {x: "l", y: "v", r: 3.4, fill: "black", stroke: "none", clip: true}),
      Plot.dot(marks, {x: "l", y: "v", symbol: thinDiamond, r: 12.5, fill: C.red, stroke: "none"})
    ]});
}

// ---------------- TEXT ----------------
const YL = "Flux, cm\u207B\u00B2s\u207B\u00B9sr\u207B\u00B9keV\u207B\u00B9";
label("168 keV electron flux", 300, 10, "ttl");
label("1800 keV electron flux", 797, 10, "ttl");
label("Superposed Epoch, days", 300, 272, "lab");
label("Superposed Epoch, days", 797, 272, "lab");
label(YL, 17, 130, "ylab");
label("Electron flux at -1.5 days", 224, 298, "ttl");
label("Electron flux at 0.2 days", 553, 298, "ttl");
label("Electron flux at 2.0 days", 882, 298, "ttl");
label("Energy, keV", 224, 567, "lab");
label("Energy, keV", 553, 567, "lab");
label("Energy, keV", 882, 567, "lab");
label(YL, 17, 425, "ylab");
label("168 keV flux at 0.2 days", 281, 597, "ttl");
label("1800 keV flux at 0.2 days", 807, 597, "ttl");
label("L*", 281, 870, "lab");
label("L*", 807, 870, "lab");
label(YL, 17, 725, "ylab");
label(YL, 537, 725, "ylab");
</script></body></html>
